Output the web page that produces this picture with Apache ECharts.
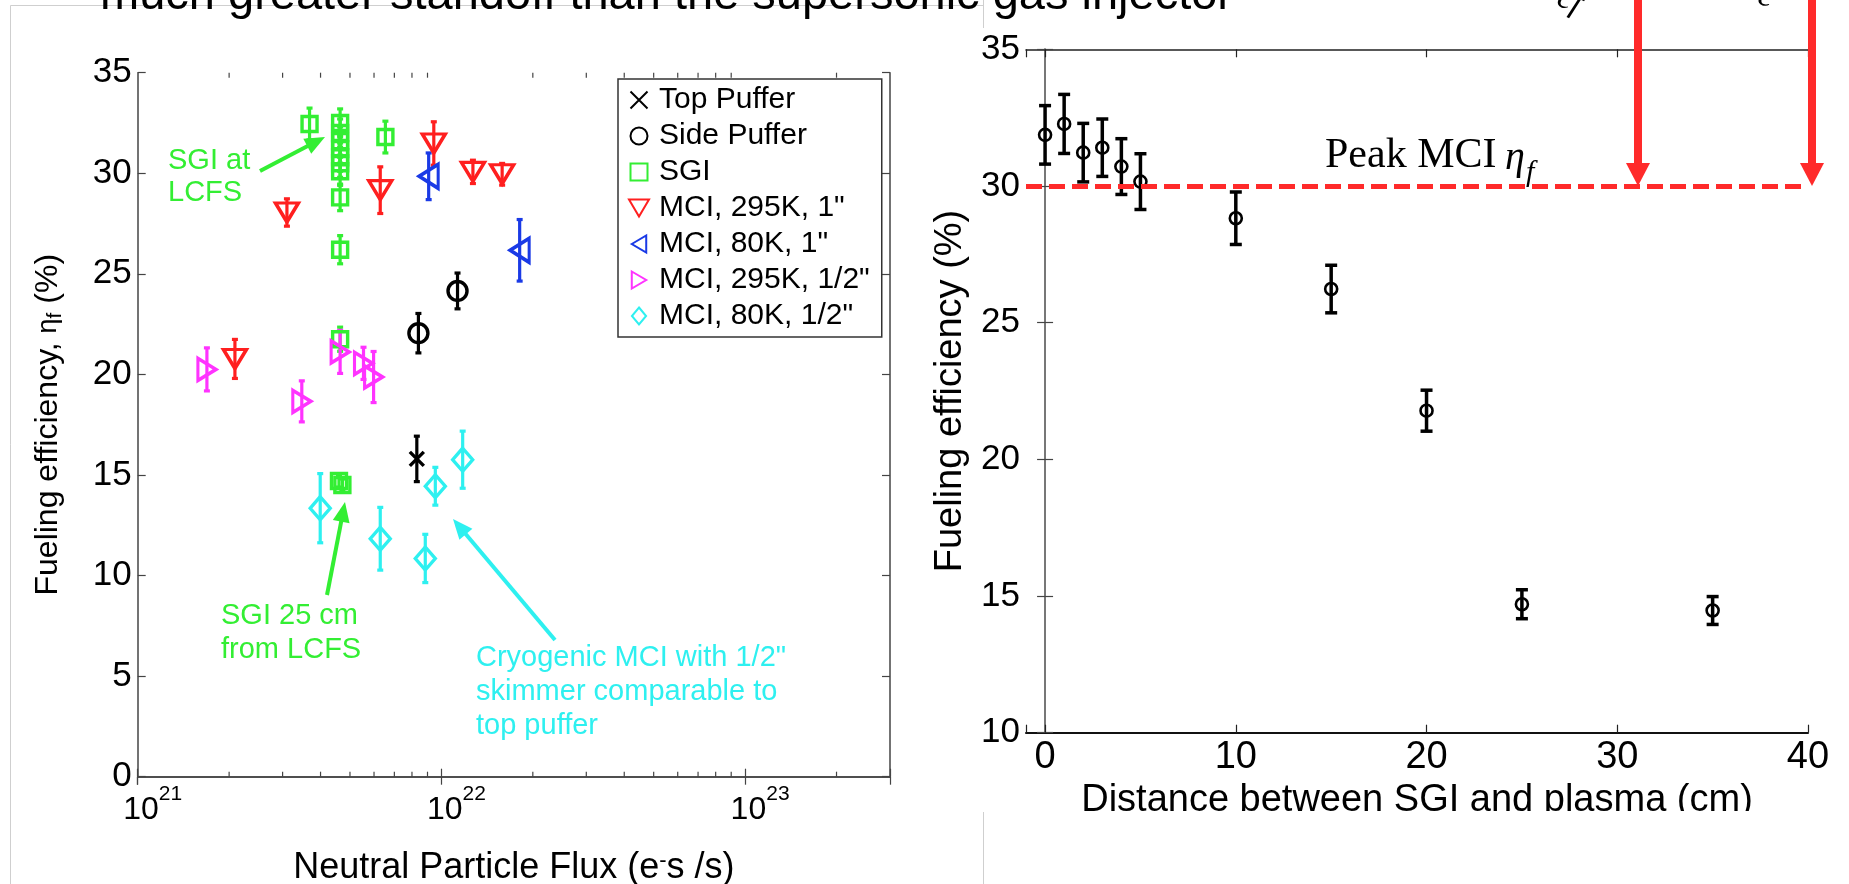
<!DOCTYPE html>
<html>
<head>
<meta charset="utf-8">
<script src="https://cdn.jsdelivr.net/npm/echarts@6/dist/echarts.min.js"></script>
<style>
  html, body { margin: 0; padding: 0; background: #fff; }
  #chart { width: 1849px; height: 884px; }
</style>
</head>
<body>
<div id="chart"></div>
<script>
// ---------- Left panel: fueling efficiency vs neutral particle flux ----------
const topPufferFlux = [8.3e21];
const topPufferEff  = [15.8];
const topPufferErr  = [1.13];

const sidePufferFlux = [8.4e21, 1.13e22];
const sidePufferEff  = [22.05, 24.15];
const sidePufferErr  = [0.98, 0.89];

const sgiFlux = [3.68e21, 4.64e21, 4.64e21, 4.64e21, 4.64e21, 4.64e21, 4.64e21, 4.64e21,
                 4.64e21, 4.64e21, 4.64e21, 6.54e21, 4.6e21, 4.72e21];
const sgiEff  = [32.45, 32.5, 32.0, 31.6, 31.2, 30.8, 30.5, 30.1,
                 28.8, 26.2, 21.75, 31.8, 14.7, 14.5];
const sgiErr  = [0.79, 0.7, 0.7, 0.7, 0.7, 0.7, 0.7, 0.7,
                 0.66, 0.7, 0.6, 0.79, 0.3, 0.3];

const mci295k1Flux = [2.09e21, 3.1e21, 6.29e21, 9.44e21, 1.27e22, 1.585e22];
const mci295k1Eff  = [20.77, 28.05, 29.16, 31.48, 30.07, 29.95];
const mci295k1Err  = [0.97, 0.68, 1.16, 1.08, 0.58, 0.54];

const mci80k1Flux = [9.08e21, 1.81e22];
const mci80k1Eff  = [29.85, 26.17];
const mci80k1Err  = [1.16, 1.53];

const mci295kHalfFlux = [1.69e21, 3.47e21, 4.64e21, 5.54e21, 5.98e21];
const mci295kHalfEff  = [20.25, 18.66, 21.12, 20.55, 19.87];
const mci295kHalfErr  = [1.07, 1.02, 1.07, 0.8, 1.27];

const mci80kHalfFlux = [3.99e21, 6.29e21, 8.85e21, 9.55e21, 1.175e22];
const mci80kHalfEff  = [13.35, 11.83, 10.85, 14.44, 15.76];
const mci80kHalfErr  = [1.72, 1.56, 1.2, 0.94, 1.42];

// log-axis minor tick positions (2..9 per decade)
const fluxMinorTicks = [2e21, 3e21, 4e21, 5e21, 6e21, 7e21, 8e21, 9e21,
                        2e22, 3e22, 4e22, 5e22, 6e22, 7e22, 8e22, 9e22, 2e23];

// ---------- Right panel: efficiency vs SGI standoff distance ----------
const distanceCm = [0, 1, 2, 3, 4, 5, 10, 15, 20, 25, 35];
const sgiDistEff = [31.87, 32.27, 31.22, 31.4, 30.71, 30.16, 28.82, 26.23, 21.78, 14.7, 14.47];
const sgiDistErr = [1.07, 1.08, 1.07, 1.05, 1.02, 1.02, 0.96, 0.87, 0.75, 0.53, 0.51];
const peakMciEff = 30;

const SANS = '"Liberation Sans", Arial, sans-serif';
const SERIF = '"Liberation Serif", "Times New Roman", serif';

const GREEN = '#33ee33', CYAN = '#2ef0f0', MAGENTA = '#ff33ff',
      RED = '#ff1f1f', BLUE = '#1a3ae6', BLACK = '#000000';

// outline marker shapes (paths keep their proportions in the legend)
const SYM = {
  cross: 'path://M0,0L10,10M10,0L0,10',
  square: 'path://M0,0L10,0L10,10L0,10Z',
  diamond: 'path://M5,0L10,6L5,12L0,6Z',
  down: 'path://M0,0L20,0L10,17Z',
  left: 'path://M0,10L17,0L17,20Z',
  right: 'path://M0,0L17,10L0,20Z'
};

function zip3(a, b, c) { return a.map((v, i) => [v, b[i], c[i]]); }

function errorBars(capHalf, lineWidth, color) {
  return function (params, api) {
    const x = api.value(0), y = api.value(1), e = api.value(2);
    const hi = api.coord([x, y + e]);
    const lo = api.coord([x, y - e]);
    const st = { stroke: color, lineWidth: lineWidth };
    const kids = [{ type: 'line', shape: { x1: hi[0], y1: hi[1], x2: lo[0], y2: lo[1] }, style: st }];
    if (capHalf > 0) {
      kids.push({ type: 'line', shape: { x1: hi[0] - capHalf, y1: hi[1], x2: hi[0] + capHalf, y2: hi[1] }, style: st });
      kids.push({ type: 'line', shape: { x1: lo[0] - capHalf, y1: lo[1], x2: lo[0] + capHalf, y2: lo[1] }, style: st });
    }
    return { type: 'group', children: kids };
  };
}

function leftGroup(name, flux, eff, err, color, symbol, size) {
  const data = zip3(flux, eff, err);
  return [
    {
      name: name + ' bars', type: 'custom', xAxisIndex: 0, yAxisIndex: 0,
      renderItem: errorBars(3, 3.2, color), encode: { x: 0, y: 1 },
      data: data, z: 2, silent: true
    },
    {
      name: name, type: 'scatter', xAxisIndex: 0, yAxisIndex: 0,
      data: data.map(d => [d[0], d[1]]),
      symbol: symbol, symbolSize: size, symbolKeepAspect: false,
      itemStyle: { color: 'rgba(0,0,0,0)', borderColor: color, borderWidth: 3.4, opacity: 1 },
      z: 3, silent: true
    }
  ];
}

const series = [].concat(
  leftGroup('Top Puffer', topPufferFlux, topPufferEff, topPufferErr, BLACK, SYM.cross, [14, 14]),
  leftGroup('Side Puffer', sidePufferFlux, sidePufferEff, sidePufferErr, BLACK, 'circle', [19, 19]),
  leftGroup('SGI', sgiFlux, sgiEff, sgiErr, GREEN, SYM.square, [15, 15]),
  leftGroup('MCI, 295K, 1"', mci295k1Flux, mci295k1Eff, mci295k1Err, RED, SYM.down, [23, 19]),
  leftGroup('MCI, 80K, 1"', mci80k1Flux, mci80k1Eff, mci80k1Err, BLUE, SYM.left, [19, 24]),
  leftGroup('MCI, 295K, 1/2"', mci295kHalfFlux, mci295kHalfEff, mci295kHalfErr, MAGENTA, SYM.right, [18, 22]),
  leftGroup('MCI, 80K, 1/2"', mci80kHalfFlux, mci80kHalfEff, mci80kHalfErr, CYAN, SYM.diamond, [20, 23])
);

// minor ticks of the log axis, top and bottom edges
series.push({
  name: 'flux minor ticks', type: 'custom', xAxisIndex: 0, yAxisIndex: 0,
  encode: { x: 0, y: 1 }, silent: true, z: 1,
  data: fluxMinorTicks.map(v => [v, 0]),
  renderItem: function (params, api) {
    const b = api.coord([api.value(0), 0]);
    const t = api.coord([api.value(0), 35]);
    const st = { stroke: '#444', lineWidth: 1.2 };
    return { type: 'group', children: [
      { type: 'line', shape: { x1: b[0], y1: b[1], x2: b[0], y2: b[1] - 5 }, style: st },
      { type: 'line', shape: { x1: t[0], y1: t[1], x2: t[0], y2: t[1] + 5 }, style: st }
    ] };
  }
});

// right panel
const distData = zip3(distanceCm, sgiDistEff, sgiDistErr);
series.push({
  name: 'distance bars', type: 'custom', xAxisIndex: 2, yAxisIndex: 2,
  renderItem: errorBars(6, 3.5, BLACK), encode: { x: 0, y: 1 },
  data: distData, z: 2, silent: true
});
series.push({
  name: 'distance', type: 'scatter', xAxisIndex: 2, yAxisIndex: 2,
  data: distData.map(d => [d[0], d[1]]),
  symbol: 'circle', symbolSize: 12,
  itemStyle: { color: 'rgba(0,0,0,0)', borderColor: BLACK, borderWidth: 2.6, opacity: 1 },
  z: 3, silent: true,
  markLine: {
    silent: true, symbol: 'none', animation: false,
    label: { show: false },
    lineStyle: { color: '#ff2a2a', width: 5, type: [16, 7] },
    data: [{ yAxis: peakMciEff }]
  }
});

function fluxLabel(v) {
  const p = Math.log10(v);
  if (Math.abs(p - Math.round(p)) > 1e-6) return '';
  return '{b|10}{e|' + Math.round(p) + '}';
}

const axisCol = '#444';
const leftLine = { show: true, lineStyle: { color: axisCol, width: 1.5 } };
const noLabel = { show: false };

const xAxes = [
  { // left bottom (log)
    gridIndex: 0, type: 'log', logBase: 10, min: 1e21, max: 3e23, position: 'bottom',
    axisLine: leftLine, splitLine: { show: false },
    axisTick: { show: true, inside: true, length: 8, lineStyle: { color: axisCol, width: 1.2 } },
    axisLabel: {
      formatter: fluxLabel, margin: 7, padding: [0, 0, 0, 30], color: '#000',
      rich: {
        b: { fontSize: 32, fontFamily: SANS, color: '#000', padding: [10, 0, 0, 0], verticalAlign: 'top' },
        e: { fontSize: 21, fontFamily: SANS, color: '#000', verticalAlign: 'top' }
      }
    },
    name: 'Neutral Particle Flux (e{s|-}s /s)', nameLocation: 'middle', nameGap: 73,
    nameTextStyle: {
      fontSize: 36, fontFamily: SANS, color: '#000',
      rich: { s: { fontSize: 22, fontFamily: SANS, color: '#000', verticalAlign: 'top', padding: [0, 0, 12, 0] } }
    }
  },
  { // left top mirror
    gridIndex: 0, type: 'log', logBase: 10, min: 1e21, max: 3e23, position: 'top',
    axisLine: leftLine, splitLine: { show: false }, axisLabel: noLabel,
    axisTick: { show: true, inside: true, length: 8, lineStyle: { color: axisCol, width: 1.2 } }
  },
  { // right bottom
    gridIndex: 1, type: 'value', min: -1, max: 40, splitNumber: 4, position: 'bottom',
    axisLine: { show: true, lineStyle: { color: '#111', width: 2 } }, splitLine: { show: false },
    axisTick: { show: true, inside: true, length: 8, lineStyle: { color: '#222', width: 1.2 } },
    axisLabel: {
      formatter: v => (v < 0 ? '' : String(v)), fontSize: 38, fontFamily: SANS, color: '#000', margin: 6
    },
    name: 'Distance between SGI and plasma (cm)', nameLocation: 'middle', nameGap: 33,
    nameTextStyle: { fontSize: 38, fontFamily: SANS, color: '#000' }
  },
  { // right top mirror
    gridIndex: 1, type: 'value', min: -1, max: 40, splitNumber: 4, position: 'top',
    axisLine: { show: true, lineStyle: { color: '#222', width: 1.5 } }, splitLine: { show: false },
    axisLabel: noLabel,
    axisTick: { show: true, inside: true, length: 8, lineStyle: { color: '#222', width: 1.2 } }
  }
];

const yAxes = [
  {
    gridIndex: 0, type: 'value', min: 0, max: 35, interval: 5, position: 'left',
    axisLine: leftLine, splitLine: { show: false },
    axisTick: { show: true, inside: true, length: 8, lineStyle: { color: axisCol, width: 1.2 } },
    axisLabel: { fontSize: 35, fontFamily: SANS, color: '#000', margin: 6 },
    name: 'Fueling efficiency, {g|η}{s|f} (%)', nameLocation: 'middle', nameGap: 72, nameRotate: 90,
    nameTextStyle: {
      fontSize: 32, fontFamily: SANS, color: '#000',
      rich: {
        g: { fontSize: 27, fontFamily: SANS, color: '#000' },
        s: { fontSize: 21, fontFamily: SANS, color: '#000', verticalAlign: 'bottom', padding: [14, 0, 0, 0] }
      }
    }
  },
  {
    gridIndex: 0, type: 'value', min: 0, max: 35, interval: 5, position: 'right',
    axisLine: leftLine, splitLine: { show: false }, axisLabel: noLabel,
    axisTick: { show: true, inside: true, length: 8, lineStyle: { color: axisCol, width: 1.2 } }
  },
  {
    gridIndex: 1, type: 'value', min: 10, max: 35, interval: 5, position: 'left',
    axisLine: { show: true, lineStyle: { color: '#777', width: 2 } }, splitLine: { show: false },
    axisTick: { show: true, inside: true, length: 8, lineStyle: { color: '#444', width: 1.2 } },
    axisLabel: { fontSize: 35, fontFamily: SANS, color: '#000', margin: 6 },
    name: 'Fueling efficiency (%)', nameLocation: 'middle', nameGap: 56, nameRotate: 90,
    nameTextStyle: { fontSize: 38, fontFamily: SANS, color: '#000' }
  },
  {
    gridIndex: 1, type: 'value', min: 10, max: 35, interval: 5, position: 'right',
    axisLine: { show: true, lineStyle: { color: '#777', width: 1.5 } }, splitLine: { show: false },
    axisLabel: noLabel,
    axisTick: { show: true, inside: true, length: 8, lineStyle: { color: '#444', width: 1.2 } }
  }
];

function arrow(x1, y1, x2, y2, color, lw, headLen, headW) {
  const dx = x2 - x1, dy = y2 - y1, L = Math.hypot(dx, dy);
  const ux = dx / L, uy = dy / L;
  const bx = x2 - ux * headLen, by = y2 - uy * headLen;
  const px = -uy * headW / 2, py = ux * headW / 2;
  return [
    { type: 'line', z: 60, silent: true, shape: { x1: x1, y1: y1, x2: bx + ux, y2: by + uy }, style: { stroke: color, lineWidth: lw } },
    { type: 'polygon', z: 60, silent: true, shape: { points: [[x2, y2], [bx + px, by + py], [bx - px, by - py]] }, style: { fill: color } }
  ];
}

function note(x, y, text, color, font, lineHeight) {
  return {
    type: 'text', x: x, y: y, z: 60, silent: true,
    style: { text: text, fill: color, font: font, lineHeight: lineHeight, textAlign: 'left', textVerticalAlign: 'middle' }
  };
}

const frame = '#cfcfcf';
const graphics = [
  // slide frame lines
  { type: 'line', z: 1, silent: true, shape: { x1: 10.5, y1: 5.5, x2: 10.5, y2: 884 }, style: { stroke: frame, lineWidth: 1 } },
  { type: 'line', z: 1, silent: true, shape: { x1: 10.5, y1: 5.5, x2: 983.5, y2: 5.5 }, style: { stroke: frame, lineWidth: 1 } },
  { type: 'line', z: 1, silent: true, shape: { x1: 983.5, y1: 0, x2: 983.5, y2: 28 }, style: { stroke: frame, lineWidth: 1 } },
  // slide heading (partly above the page edge)
  { type: 'text', x: 100, y: -4, z: 60, silent: true,
    style: { text: 'much greater standoff than the supersonic gas injector', fill: '#000',
             font: '47px ' + SANS, textAlign: 'left', textVerticalAlign: 'middle' } },
  // annotations on the left panel
  note(168, 177, 'SGI at\nLCFS', GREEN, '29px ' + SANS, 32),
  note(221, 633, 'SGI 25 cm\nfrom LCFS', GREEN, '29px ' + SANS, 34),
  note(476, 692, 'Cryogenic MCI with 1/2"\nskimmer comparable to\ntop puffer', CYAN, '29px ' + SANS, 34),
  // "Peak MCI" label on the right panel
  { type: 'text', x: 1325, y: 156, z: 60, silent: true,
    style: { text: 'Peak MCI', fill: '#000', font: '42px ' + SERIF, textAlign: 'left', textVerticalAlign: 'middle' } },
  { type: 'text', x: 1505, y: 158, z: 60, silent: true,
    style: { text: 'η', fill: '#000', font: 'italic 40px ' + SERIF, textAlign: 'left', textVerticalAlign: 'middle' } },
  { type: 'text', x: 1526, y: 173, z: 60, silent: true,
    style: { text: 'f', fill: '#000', font: 'italic 30px ' + SERIF, textAlign: 'left', textVerticalAlign: 'middle' } },
  // italic labels running off the top edge
  { type: 'text', x: 1570, y: 1, rotation: -0.4, z: 60, silent: true,
    style: { text: 'cf', fill: '#000', font: 'italic 34px ' + SERIF, textAlign: 'center', textVerticalAlign: 'middle' } },
  { type: 'text', x: 1766, y: -3, rotation: -0.3, z: 60, silent: true,
    style: { text: 'c', fill: '#000', font: 'italic 34px ' + SERIF, textAlign: 'center', textVerticalAlign: 'middle' } },
  // mask below the right panel, then the frame line that shows through there
  { type: 'rect', z: 70, silent: true, shape: { x: 988, y: 811, width: 861, height: 73 }, style: { fill: '#fff' } },
  { type: 'line', z: 71, silent: true, shape: { x1: 983.5, y1: 812, x2: 983.5, y2: 884 }, style: { stroke: frame, lineWidth: 1 } }
].concat(
  arrow(260, 171, 325, 137, GREEN, 4, 20, 17),
  arrow(327, 595, 345, 502, GREEN, 4, 20, 17),
  arrow(555, 640, 453, 519, CYAN, 4, 20, 17),
  arrow(1638, 0, 1638, 186, '#ff2a2a', 8, 23, 24),
  arrow(1812, 0, 1812, 186, '#ff2a2a', 8, 23, 24)
);

const option = {
  animation: false,
  backgroundColor: '#ffffff',
  textStyle: { fontFamily: SANS },
  grid: [
    { left: 137.7, top: 72.7, width: 752.3, height: 704, outerBoundsMode: 'none', containLabel: false },
    { left: 1026, top: 49.3, width: 782, height: 683.4, outerBoundsMode: 'none', containLabel: false }
  ],
  legend: {
    data: ['Top Puffer', 'Side Puffer', 'SGI', 'MCI, 295K, 1"', 'MCI, 80K, 1"', 'MCI, 295K, 1/2"', 'MCI, 80K, 1/2"'],
    orient: 'vertical', left: 618, top: 79,
    padding: [6, 12, 6, 10], itemGap: 6, itemWidth: 30, itemHeight: 17,
    selectedMode: false,
    backgroundColor: '#fff', borderColor: '#333', borderWidth: 1.5,
    textStyle: { fontSize: 30, fontFamily: SANS, color: '#000', lineHeight: 30 }
  },
  xAxis: xAxes,
  yAxis: yAxes,
  series: series,
  graphic: graphics
};

const chart = echarts.init(document.getElementById('chart'));
chart.setOption(option);
</script>
</body>
</html>
